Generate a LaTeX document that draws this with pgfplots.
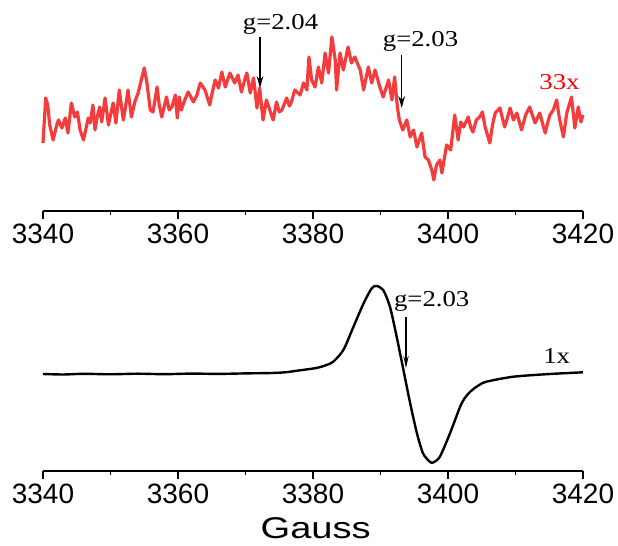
\documentclass[border=0pt]{standalone}
\usepackage{pgfplots}
\pgfplotsset{compat=1.18}
\usepackage{fontspec}
\usetikzlibrary{arrows.meta}
\newfontfamily\ticksf{Liberation Sans}
\newfontfamily\labsf[FakeStretch=1.27]{Liberation Sans}
\newfontfamily\annrm[FakeStretch=1.18]{Liberation Serif}
\definecolor{epr}{RGB}{245,60,60}

\tikzset{ann/.style={font=\annrm\fontsize{17}{20}\selectfont, anchor=base}}
\pgfplotsset{
  eprstyle/.style={
    scale only axis, width=405pt, height=150pt,
    xmin=3340, xmax=3420, clip=false,
    axis x line=bottom, axis y line=none,
    axis line style={-, line width=1.1pt},
    xtick={3340,3360,...,3420},
    minor xtick={3350,3370,3390,3410},
    tick align=outside,
    major tick length=6pt, minor tick length=3pt,
    every tick/.style={black, line width=1pt},
    /pgf/number format/1000 sep={},
    /pgf/number format/assume math mode=true,
    tick label style={font=\ticksf\fontsize{21}{25}\selectfont},
    y filter/.expression={-y},
  },
}

\begin{document}
\begin{tikzpicture}
% top panel, 33x
\begin{axis}[eprstyle, at={(0,0)}, ymin=-211, ymax=-11]
\addplot[epr, line width=2.4pt, line join=round] coordinates {
(3340.0,143) (3340.4,98) (3340.7,105) (3341.0,125) (3341.5,140) (3342.0,126) (3342.3,120)
(3342.8,128) (3343.3,118) (3343.7,133) (3344.2,103) (3344.7,117) (3345.1,112) (3345.5,130)
(3346.0,140) (3346.7,118) (3347.0,123) (3347.4,105) (3347.7,130) (3348.0,118) (3348.4,107)
(3348.7,122) (3349.2,98) (3349.7,125) (3350.0,115) (3350.4,103) (3350.8,123) (3351.3,90)
(3351.9,120) (3352.2,108) (3352.6,90) (3353.1,117) (3353.6,102) (3354.1,93) (3355.0,68) (3355.4,83)
(3355.9,110) (3356.3,112) (3356.9,87) (3357.2,104) (3357.6,117) (3358.3,97) (3358.7,110) (3359.1,107)
(3359.6,95) (3359.9,118) (3360.2,97) (3360.5,110) (3361.0,100) (3361.5,92) (3362.3,102)
(3362.8,95) (3363.3,83) (3364.0,90) (3364.7,105) (3365.1,92) (3365.5,80) (3366.0,88) (3366.5,72)
(3367.0,87) (3367.7,73) (3368.4,83) (3368.9,75) (3369.4,92) (3369.8,82) (3370.2,73)
(3370.7,93) (3371.2,78) (3371.7,108) (3372.1,88) (3372.6,120) (3373.1,100)
(3373.6,110) (3374.1,120) (3374.6,102) (3375.0,112) (3375.4,110) (3376.1,98) (3376.5,106) (3376.8,102)
(3377.3,90) (3378.1,95) (3378.6,83) (3379.1,90) (3379.4,57) (3379.8,80)
(3380.3,87) (3380.8,67) (3381.3,83) (3381.8,53) (3382.3,73) (3382.8,37)
(3383.3,60) (3383.5,90) (3384.0,53) (3384.5,70) (3385.2,47) (3385.7,63)
(3386.2,57) (3387.0,70) (3387.5,90) (3388.2,67) (3388.7,83) (3389.2,70)
(3389.9,87) (3390.4,97) (3391.2,80) (3391.7,100) (3392.1,77) (3392.5,107)
(3392.8,120) (3393.3,130) (3393.9,120) (3394.4,137) (3394.9,130) (3395.4,147)
(3396.1,133) (3396.6,157) (3397.1,160) (3397.6,170) (3397.9,180) (3398.3,165)
(3398.8,160) (3399.1,173) (3399.8,145) (3400.4,150) (3401.0,115) (3401.5,140)
(3401.9,122) (3402.3,127) (3403.0,117) (3403.4,128) (3403.7,132) (3404.2,120) (3404.7,117) (3405.1,112) (3405.5,127)
(3406.2,143) (3406.6,125) (3407.0,113) (3407.7,108) (3408.4,127) (3408.8,118) (3409.2,108) (3409.7,120) (3410.2,113)
(3410.9,130) (3411.5,115) (3412.1,107) (3412.9,123) (3413.6,113) (3414.4,133) (3414.8,122) (3415.1,115) (3415.6,110)
(3416.1,100) (3416.5,118) (3417.1,137) (3417.6,113) (3418.3,97) (3418.8,128) (3419.3,107) (3419.7,122) (3420.0,115)
};
\draw[line width=1.1pt, -{Stealth[length=9pt, width=5pt]}] (axis cs:3372.15,-37) -- (axis cs:3372.15,-88);
\draw[line width=1.1pt, -{Stealth[length=9pt, width=5pt]}] (axis cs:3393.14,-55) -- (axis cs:3393.14,-108);
\node[ann] at (axis cs:3375.19,-29.5) {g=2.04};
\node[ann] at (axis cs:3395.93,-46.5) {g=2.03};
\node[ann, text=red] at (axis cs:3416.52,-89.3) {33x};
\coordinate (tl) at (axis cs:3333.63,0);
\end{axis}
% bottom panel, 1x
\begin{axis}[eprstyle, at={(0,-195pt)}, ymin=-471, ymax=-271]
\addplot[black, line width=1.8pt, smooth, tension=0.45] coordinates {
(3340,374) (3343,374.5) (3346,373.8) (3350,374.3) (3354,373.7) (3358,374.2)
(3362,373.6) (3366,373.9) (3370,373.4) (3374,373) (3376,372.2) (3378.1,370.3)
(3380.5,368) (3382,365) (3383,361.7) (3384.5,350) (3386,326.7) (3387.5,303.3)
(3388.7,288.3) (3389.4,286) (3390.4,290) (3391.4,306.7) (3392.4,336.7)
(3393.4,370) (3394.4,403.3) (3395.4,433.3) (3396.3,453.3) (3397.3,461.7)
(3397.8,462.5) (3398.8,456.7) (3400.3,433.3) (3401.8,406.7) (3402.5,398)
(3403.3,391.7) (3404.4,386) (3405.7,381.7) (3409.7,376.7) (3415.1,374) (3420,372.3)
};
\draw[line width=0.8pt, -{Stealth[length=9pt, width=4pt]}] (axis cs:3393.78,-317) -- (axis cs:3393.78,-368);
\node[ann] at (axis cs:3397.59,-306.7) {g=2.03};
\node[ann] at (axis cs:3416.1,-363.3) {1x};
\node[anchor=base, font=\labsf\fontsize{22.5}{26}\selectfont] at (axis cs:3380.4,-538.3) {Gauss};
\coordinate (br) at (axis cs:3425.19,-546);
\end{axis}
\pgfresetboundingbox
\path[use as bounding box] (tl) rectangle (br);
\end{tikzpicture}
\end{document}
